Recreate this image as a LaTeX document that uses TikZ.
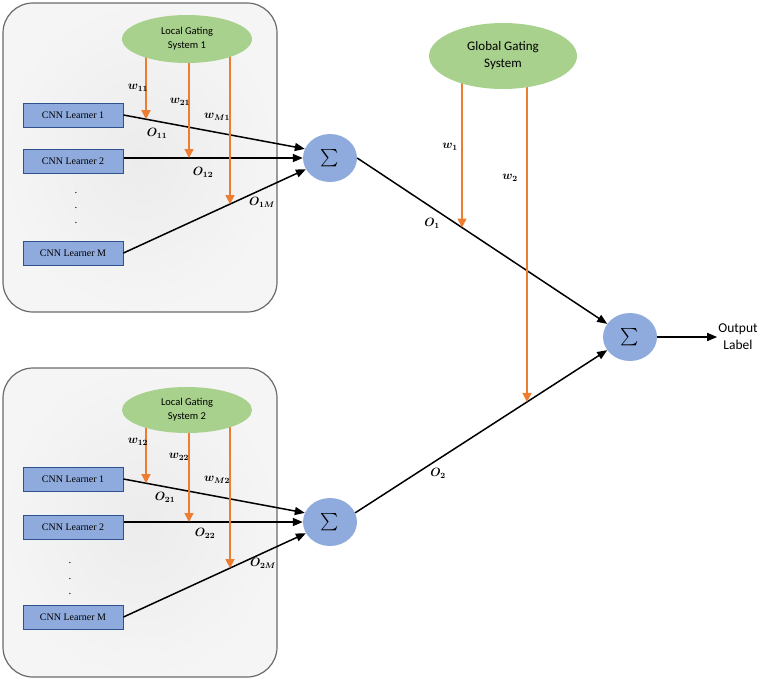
\documentclass[tikz,border=0pt]{standalone}
\usepackage{fontspec}
\setmainfont{Liberation Serif}
\newfontfamily\calib{Carlito}
\usepackage{exscale}
\usepackage{bm}
\usetikzlibrary{arrows.meta,shapes.geometric,intersections,calc}
\definecolor{boxblue}{HTML}{8FAADC}
\definecolor{boxedge}{HTML}{2F528F}
\definecolor{gatgreen}{HTML}{A9D18E}
\definecolor{worange}{HTML}{ED7D31}
\definecolor{panedge}{HTML}{6A6A6A}
\begin{document}
\begin{tikzpicture}[x=1pt,y=-1pt,
  panel/.style={draw=panedge,line width=1.2pt,rounded corners=30pt,inner color=gray!15,outer color=gray!8,minimum width=274pt,minimum height=309pt,inner sep=0pt},
  learner/.style={draw=boxedge,fill=boxblue,line width=1pt,minimum width=100pt,minimum height=24pt,inner sep=0pt,font=\rmfamily\fontsize{10}{12}\selectfont},
  sumnode/.style={ellipse,fill=boxblue,minimum width=54pt,minimum height=48pt,inner sep=0pt,font=\fontsize{17}{17}\selectfont},
  gate/.style={ellipse,fill=gatgreen,inner sep=0pt,align=center},
  flow/.style={line width=1.5pt,-{Triangle[length=10pt,width=8pt]}},
  wflow/.style={worange,line width=1.4pt,-{Triangle[length=9pt,width=9pt]}},
  lbl/.style={font=\fontsize{12}{14}\selectfont,inner sep=0pt},
  dotnode/.style={font=\rmfamily\fontsize{11}{12}\selectfont,inner sep=0pt},
]
\useasboundingbox (0,0) rectangle (767,681);

% panels
\node[panel] (pan1) at (140,157.5) {};
\node[panel] (pan2) at (140,522.5) {};

% gating centres
\coordinate (lg1c) at (187,39);
\coordinate (lg2c) at (187,410);
\coordinate (ggc) at (503,56);

% learners, top
\node[learner] (c11) at (73,115) {CNN Learner 1};
\node[learner] (c12) at (73,161) {CNN Learner 2};
\node[learner] (c1M) at (73,253) {CNN Learner M};
\node[dotnode] (d11) at (76,193) {.};
\node[dotnode] (d12) at (76,208) {.};
\node[dotnode] (d13) at (76,223) {.};

% learners, bottom
\node[learner] (c21) at (73,479) {CNN Learner 1};
\node[learner] (c22) at (73,527) {CNN Learner 2};
\node[learner] (c2M) at (73,617) {CNN Learner M};
\node[dotnode] (d21) at (70,563) {.};
\node[dotnode] (d22) at (70,579) {.};
\node[dotnode] (d23) at (70,594) {.};

% sums
\node[sumnode] (s1) at (330,158) {$\sum$};
\node[sumnode] (s2) at (330,522) {$\sum$};
\node[sumnode] (s3) at (630,337) {$\sum$};

\node[font=\calib\fontsize{13.5}{17}\selectfont,align=center,inner sep=1pt] (out) at (738,337) {Output\\Label};

% black connectors
\draw[flow,name path=l11] (c11.east) -- (s1.160);
\draw[flow,name path=l12] (c12.east |- s1.west) -- (s1.west);
\draw[flow,name path=l1M] (c1M.east) -- (s1.205);
\draw[flow,name path=l21] (c21.east) -- (s2.160);
\draw[flow,name path=l22] (c22.east |- s2.west) -- (s2.west);
\draw[flow,name path=l2M] (c2M.east) -- (s2.205);
\draw[flow,name path=g1] (s1.east) -- (s3.150);
\draw[flow,name path=g2] (s2.20) -- (s3.210);
\draw[flow] (s3.east) -- (out.west);

% vertical guides and intersections
\path[name path=v11] (146,0) -- (146,330);
\path[name path=v12] (189,0) -- (189,330);
\path[name path=v1M] (230,0) -- (230,330);
\path[name path=v21] (146,360) -- (146,681);
\path[name path=v22] (189,360) -- (189,681);
\path[name path=v2M] (230,360) -- (230,681);
\path[name path=vg1] (462,0) -- (462,681);
\path[name path=vg2] (527,0) -- (527,681);
\path[name intersections={of=v11 and l11,by=p11}];
\path[name intersections={of=v12 and l12,by=p12}];
\path[name intersections={of=v1M and l1M,by=p1M}];
\path[name intersections={of=v21 and l21,by=p21}];
\path[name intersections={of=v22 and l22,by=p22}];
\path[name intersections={of=v2M and l2M,by=p2M}];
\path[name intersections={of=vg1 and g1,by=q1}];
\path[name intersections={of=vg2 and g2,by=q2}];

% orange weight arrows (start under the ellipses)
\draw[wflow] (p11 |- lg1c) -- (p11);
\draw[wflow] (p12 |- lg1c) -- (p12);
\draw[wflow] (p1M |- lg1c) -- (p1M);
\draw[wflow] (p21 |- lg2c) -- (p21);
\draw[wflow] (p22 |- lg2c) -- (p22);
\draw[wflow] (p2M |- lg2c) -- (p2M);
\draw[wflow] (q1 |- ggc) -- (q1);
\draw[wflow] (q2 |- ggc) -- (q2);

% gating ellipses
\node[gate,minimum width=130pt,minimum height=48pt,font=\calib\fontsize{10.5}{14}\selectfont] (lg1) at (lg1c) {Local Gating\\System 1};
\node[gate,minimum width=130pt,minimum height=46pt,font=\calib\fontsize{10.5}{14}\selectfont] (lg2) at (lg2c) {Local Gating\\System 2};
\node[gate,minimum width=148pt,minimum height=66pt,font=\calib\fontsize{13}{17}\selectfont] (gg) at (ggc) {Global Gating\\System};

% labels
\node[lbl] (lw11) at (138,88) {$\bm{w_{11}}$};
\node[lbl] (lw21) at (180,102) {$\bm{w_{21}}$};
\node[lbl] (lwM1) at (217,117) {$\bm{w_{M1}}$};
\node[lbl] (lo11) at (157,133) {$\bm{O_{11}}$};
\node[lbl] (lo12) at (203,172) {$\bm{O_{12}}$};
\node[lbl] (lo1M) at (262,202) {$\bm{O_{1M}}$};
\node[lbl] (lw12) at (138,442) {$\bm{w_{12}}$};
\node[lbl] (lw22) at (179,457) {$\bm{w_{22}}$};
\node[lbl] (lwM2) at (217,480) {$\bm{w_{M2}}$};
\node[lbl] (lo21) at (165,497) {$\bm{O_{21}}$};
\node[lbl] (lo22) at (205,533) {$\bm{O_{22}}$};
\node[lbl] (lo2M) at (263,563) {$\bm{O_{2M}}$};
\node[lbl] (lw1) at (450,147) {$\bm{w_{1}}$};
\node[lbl] (lw2) at (510,178) {$\bm{w_{2}}$};
\node[lbl] (lo1) at (432,223) {$\bm{O_{1}}$};
\node[lbl] (lo2) at (438,473) {$\bm{O_{2}}$};
\end{tikzpicture}
\end{document}
